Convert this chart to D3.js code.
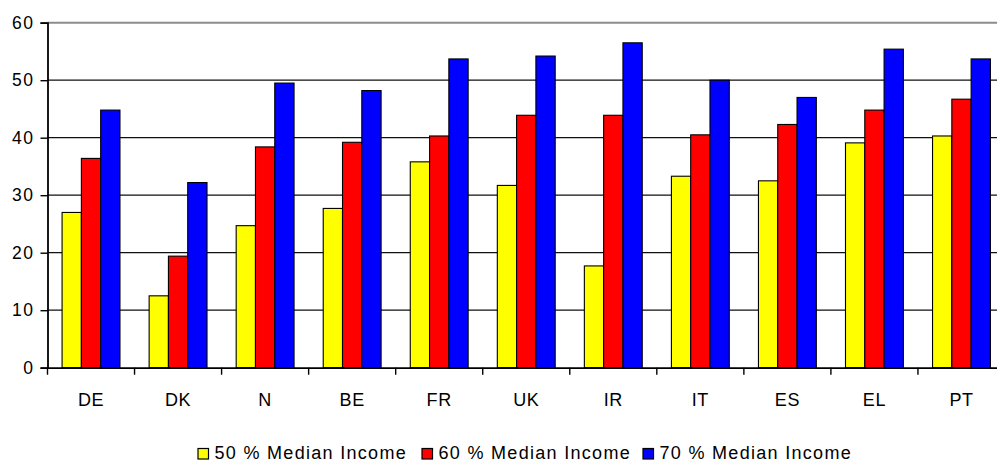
<!DOCTYPE html>
<html>
<head>
<meta charset="utf-8">
<script src="https://cdn.jsdelivr.net/npm/d3@7"></script>
<style>
  body { margin: 0; background: #fff; overflow: hidden; }
  svg { display: block; font-family: "Liberation Sans", Arial, sans-serif; }
</style>
</head>
<body>
<svg id="chart" width="997" height="462"></svg>
<script>
// values
const countries = ["DE", "DK", "N", "BE", "FR", "UK", "IR", "IT", "ES", "EL", "PT"];
const median50 = [27.0, 12.5, 24.7, 27.7, 35.8, 31.7, 17.7, 33.3, 32.5, 39.1, 40.3];
const median60 = [36.4, 19.4, 38.4, 39.2, 40.3, 43.9, 43.9, 40.5, 42.3, 44.8, 46.7];
const median70 = [44.8, 32.2, 49.5, 48.2, 53.7, 54.2, 56.5, 50.0, 47.0, 55.4, 53.7];
const seriesNames = ["50 % Median Income", "60 % Median Income", "70 % Median Income"];
const seriesColors = ["#ffff00", "#ff0000", "#0000ff"];
const yTicks = [0, 10, 20, 30, 40, 50, 60];

const svg = d3.select("#chart");
const margin = { left: 47.5, top: 22.7, bottom: 94.3 };
const plotRight = 1005;
const height = 462;

const x = d3.scaleBand()
    .domain(countries)
    .range([margin.left, plotRight])
    .paddingInner(0)
    .paddingOuter(0);

const y = d3.scaleLinear()
    .domain([0, 60])
    .range([height - margin.bottom, margin.top]);

// three bars per country, centred in the band
const inner = d3.scaleBand()
    .domain(d3.range(3))
    .range([0, x.bandwidth()])
    .paddingInner(0)
    .paddingOuter(0.756);

// gridlines (top one is grey)
svg.append("g")
    .selectAll("line")
    .data(yTicks.filter(t => t > 0))
    .join("line")
    .attr("x1", margin.left)
    .attr("x2", plotRight)
    .attr("y1", d => y(d))
    .attr("y2", d => y(d))
    .attr("stroke", d => d === 60 ? "#8c8c8c" : "#111")
    .attr("stroke-width", d => d === 60 ? 2 : 1.2);

// bars
const rows = countries.map((c, i) => ({ c, vals: [median50[i], median60[i], median70[i]] }));
svg.append("g")
    .selectAll("g")
    .data(rows)
    .join("g")
    .attr("transform", d => `translate(${x(d.c)},0)`)
    .selectAll("rect")
    .data(d => d.vals.map((v, k) => ({ v, k })))
    .join("rect")
    .attr("x", d => inner(d.k))
    .attr("width", inner.bandwidth())
    .attr("y", d => y(d.v))
    .attr("height", d => y(0) - y(d.v))
    .attr("fill", d => seriesColors[d.k])
    .attr("stroke", "#000")
    .attr("stroke-width", 1.1);

// y axis
const yAxis = svg.append("g")
    .attr("transform", `translate(${margin.left},0)`)
    .call(d3.axisLeft(y).tickValues(yTicks).tickSize(7).tickPadding(6));
yAxis.select(".domain").attr("stroke", "#000").attr("stroke-width", 1.8);
yAxis.selectAll(".tick line").attr("stroke", "#000").attr("stroke-width", 1.4);
yAxis.selectAll("text")
    .attr("font-size", 17.5)
    .attr("letter-spacing", 1.5)
    .attr("fill", "#000")
    .attr("font-family", "Liberation Sans, Arial, sans-serif");

// x axis
const xAxis = svg.append("g")
    .attr("transform", `translate(0,${y(0)})`)
    .call(d3.axisBottom(x).tickSize(0).tickPadding(25.5));
xAxis.select(".domain").attr("stroke", "#000").attr("stroke-width", 1.8);
xAxis.selectAll("text")
    .attr("font-size", 18)
    .attr("letter-spacing", 0.6)
    .attr("fill", "#000")
    .attr("font-family", "Liberation Sans, Arial, sans-serif");

// category boundary ticks
svg.append("g")
    .selectAll("line")
    .data(countries)
    .join("line")
    .attr("x1", d => x(d))
    .attr("x2", d => x(d))
    .attr("y1", y(0))
    .attr("y2", y(0) + 7)
    .attr("stroke", "#000")
    .attr("stroke-width", 1.4);

// legend
const legendX = [198, 422, 643];
const legend = svg.append("g")
    .selectAll("g")
    .data(seriesNames)
    .join("g")
    .attr("transform", (d, i) => `translate(${legendX[i]},448.5)`);
legend.append("rect")
    .attr("width", 10.5)
    .attr("height", 10.5)
    .attr("fill", (d, i) => seriesColors[i])
    .attr("stroke", "#000")
    .attr("stroke-width", 1.2);
legend.append("text")
    .attr("x", 16.5)
    .attr("y", 10.8)
    .attr("font-size", 18)
    .attr("letter-spacing", 1.3)
    .attr("fill", "#000")
    .text(d => d);
</script>
</body>
</html>
